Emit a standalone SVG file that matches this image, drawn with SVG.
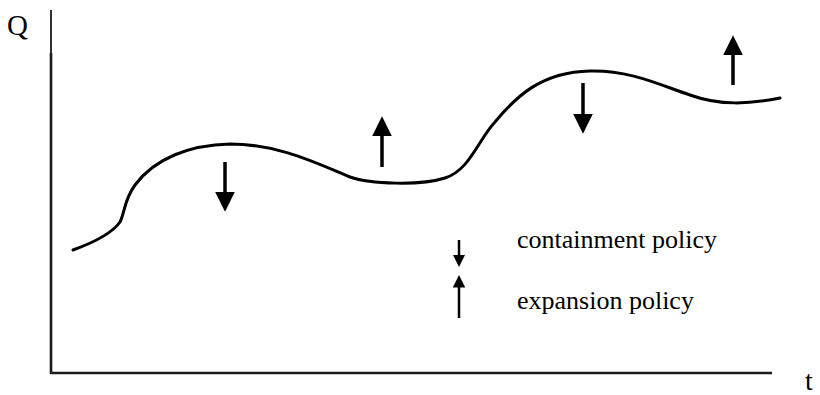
<svg xmlns="http://www.w3.org/2000/svg" width="820" height="395" viewBox="0 0 820 395">
<style>
text{font-family:"Liberation Serif","Times New Roman",serif;fill:#000}
.ax{stroke:#1a1a1a;stroke-width:2.6;fill:none}
.cv{stroke:#000;stroke-width:3;fill:none;stroke-linecap:round}
.ar{stroke:#000;stroke-width:3.5;fill:none}
.al{stroke:#000;stroke-width:2.5;fill:none}
</style>
<defs>
<marker id="h" viewBox="0 0 10 10" refX="2" refY="5" markerWidth="5.6" markerHeight="5.6" orient="auto" markerUnits="strokeWidth">
<path d="M0,0 L10,5 L0,10 z" fill="#000"/>
</marker>
<marker id="hs" viewBox="0 0 10 10" refX="2" refY="5" markerWidth="5" markerHeight="5" orient="auto" markerUnits="strokeWidth">
<path d="M0,0 L10,5 L0,10 z" fill="#000"/>
</marker>
</defs>
<rect width="820" height="395" fill="#fff"/>
<g id="axes">
<line class="ax" x1="51" y1="10" x2="51" y2="374" style="stroke-width:1.8"/>
<line class="ax" x1="51" y1="53" x2="51" y2="374"/>
<line class="ax" x1="50" y1="373" x2="772" y2="373"/>
<text x="7" y="35" font-size="29">Q</text>
<text x="805" y="390" font-size="28">t</text>
</g>
<g id="curve">
<path class="cv" d="M73,250 C95,242 113,232 120,222 C125,212 124,200 135,185 C155,158 190,145 230,144 C280,144 320,165 350,177 C370,184 420,186 445,178 C470,170 478,140 495,122 C515,98 540,72 590,71 C630,70 660,85 690,95 C720,106 750,104 780,98"/>
</g>
<g id="connectors">
<line class="ar" x1="225" y1="162" x2="225" y2="196" marker-end="url(#h)"/>
<line class="ar" x1="382" y1="167" x2="382" y2="132" marker-end="url(#h)"/>
<line class="ar" x1="583" y1="83" x2="583" y2="118" marker-end="url(#h)"/>
<line class="ar" x1="733" y1="85" x2="733" y2="51" marker-end="url(#h)"/>
</g>
<g id="legend">
<line class="al" x1="459" y1="240" x2="459" y2="257" marker-end="url(#hs)"/>
<line class="al" x1="459" y1="318" x2="459" y2="285" marker-end="url(#hs)"/>
<text x="517" y="248" font-size="26">containment policy</text>
<text x="517" y="309" font-size="26">expansion policy</text>
</g>
</svg>
